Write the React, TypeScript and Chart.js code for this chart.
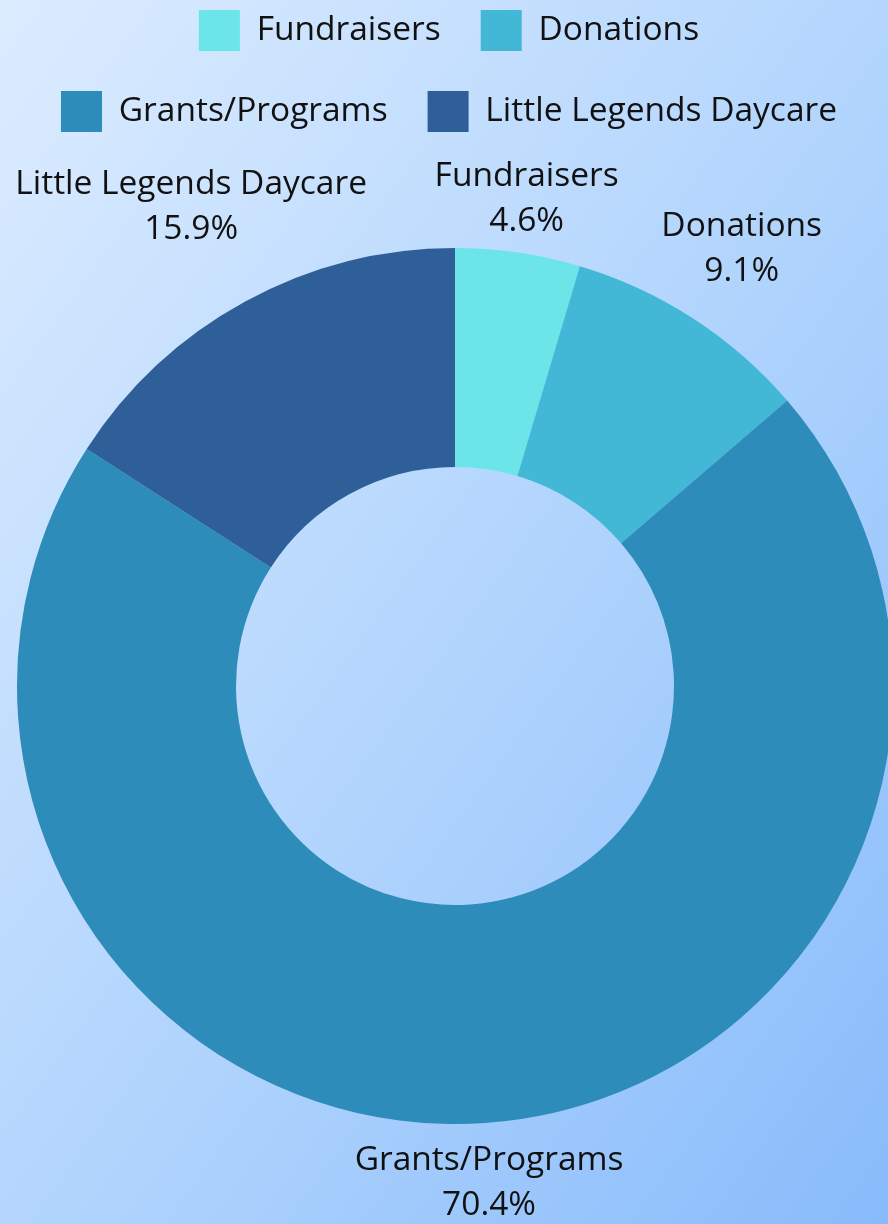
import React, { useEffect, useRef } from "react";
import { Chart, registerables } from "chart.js";

Chart.register(...registerables);

const categories = ["Fundraisers", "Donations", "Grants/Programs", "Little Legends Daycare"];
const shares = [4.6, 9.1, 70.4, 15.9];
const colors = ["#6ce5e8", "#43b7d6", "#2e8cba", "#2f5f99"];

const FONT = "'Open Sans', 'Noto Sans', sans-serif";
const FONT_SIZE = 33.5;
const LINE_GAP = 45;
const TEXT_SHIFT = 5;

const outsideLabels = {
  id: "outsideLabels",
  afterDatasetsDraw(chart: any) {
    const ctx = chart.ctx as CanvasRenderingContext2D;
    const meta = chart.getDatasetMeta(0);
    const data = chart.data.datasets[0].data as number[];
    const total = data.reduce((a, b) => a + b, 0);
    ctx.save();
    ctx.font = `${FONT_SIZE}px ${FONT}`;
    ctx.fillStyle = "#111111";
    ctx.textAlign = "center";
    ctx.textBaseline = "middle";
    meta.data.forEach((arc: any, i: number) => {
      const { x, y, startAngle, endAngle, outerRadius } = arc.getProps(
        ["x", "y", "startAngle", "endAngle", "outerRadius"],
        true
      );
      const mid = (startAngle + endAngle) / 2;
      const vx = Math.cos(mid);
      const vy = Math.sin(mid);
      const name = String(chart.data.labels[i]);
      const pct = ((data[i] / total) * 100).toFixed(1) + "%";
      const w = Math.max(ctx.measureText(name).width, ctx.measureText(pct).width);
      const h = LINE_GAP + FONT_SIZE;
      const target = outerRadius + 15;
      const nearest = (t: number) => {
        const cx = vx * t;
        const cy = vy * t;
        const dx = Math.max(Math.abs(cx) - w / 2, 0);
        const dy = Math.max(Math.abs(cy) - h / 2, 0);
        return Math.hypot(dx, dy);
      };
      let lo = 0;
      let hi = 3000;
      for (let k = 0; k < 60; k++) {
        const m = (lo + hi) / 2;
        if (nearest(m) < target) lo = m;
        else hi = m;
      }
      const cx = x + vx * lo;
      const cy = y + vy * lo + TEXT_SHIFT;
      ctx.fillText(name, cx, cy - LINE_GAP / 2);
      ctx.fillText(pct, cx, cy + LINE_GAP / 2);
    });
    ctx.restore();
  },
};

export default function App() {
  const ref = useRef<HTMLCanvasElement | null>(null);
  useEffect(() => {
    if (!ref.current) return;
    const chart = new Chart(ref.current, {
      type: "doughnut",
      data: {
        labels: categories,
        datasets: [
          {
            data: shares,
            backgroundColor: colors,
            borderWidth: 0,
            cutout: "50%",
            radius: 438,
          } as any,
        ],
      },
      options: {
        animation: false,
        responsive: false,
        layout: { padding: { top: -30, left: 10, right: 0, bottom: 0 } },
        plugins: {
          legend: {
            position: "top",
            labels: {
              font: { size: FONT_SIZE, family: FONT },
              color: "#111111",
              boxWidth: 41,
              boxHeight: 41,
              padding: 40,
            },
          },
          title: {
            display: true,
            position: "left",
            text: "",
            font: { size: 10, lineHeight: 1 },
            padding: 1,
          },
          tooltip: { enabled: false },
        },
      } as any,
      plugins: [outsideLabels],
    });
    return () => chart.destroy();
  }, []);
  return (
    <div
      style={{
        position: "fixed",
        left: 0,
        top: 0,
        width: 888,
        height: 1224,
        overflow: "hidden",
        background: "linear-gradient(to bottom right, #dcecff 0%, #b4d6fd 50%, #88bbfb 100%)",
      }}
    >
      <canvas ref={ref} width={888} height={1230} style={{ display: "block" }} />
    </div>
  );
}
